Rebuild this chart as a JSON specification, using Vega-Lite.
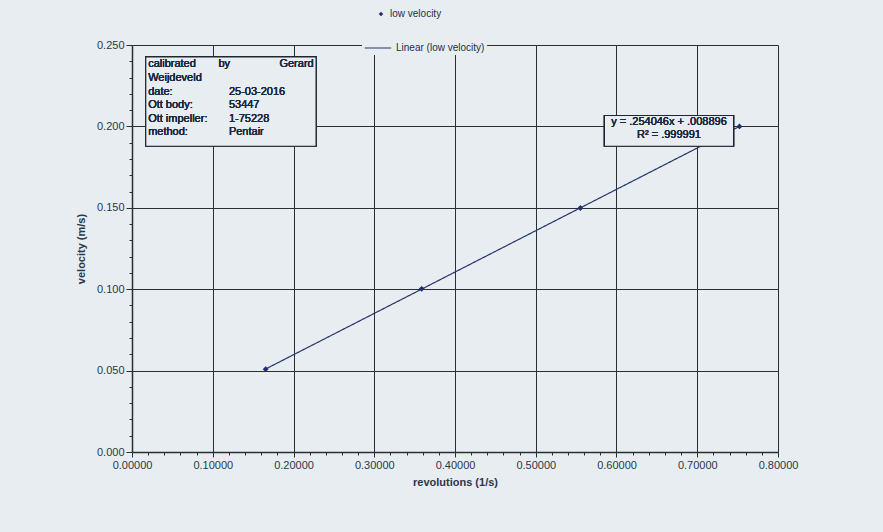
{
  "$schema": "https://vega.github.io/schema/vega-lite/v6.json",
  "autosize": {"type": "none"},
  "width": 646,
  "height": 407,
  "padding": {"left": 132, "top": 45, "right": 105, "bottom": 80},
  "background": "#e7edf0",
  "config": {
    "font": "Liberation Sans",
    "view": {"stroke": null},
    "axis": {"labelFont": "Liberation Sans", "titleFont": "Liberation Sans", "labelColor": "#2c3848", "titleColor": "#2c3848", "labelFontSize": 11, "titleFontSize": 11, "titleFontWeight": "bold", "domainColor": "#2a2f36", "tickColor": "#2a2f36", "gridColor": "#2a2f36", "gridWidth": 1, "domainWidth": 1.5},
    "legend": {"labelFont": "Liberation Sans", "labelFontSize": 10, "labelColor": "#223048"}
  },
  "data": {"values": [
    {"rev": 0.1655, "vel": 0.0509},
    {"rev": 0.3587, "vel": 0.1002},
    {"rev": 0.5553, "vel": 0.1499},
    {"rev": 0.7523, "vel": 0.2000}
  ]},
  "encoding": {
    "x": {"field": "rev", "type": "quantitative", "scale": {"domain": [0, 0.8], "nice": false},
      "axis": {
        "title": "revolutions (1/s)",
        "values": [0,0.02,0.04,0.06,0.08,0.1,0.12,0.14,0.16,0.18,0.2,0.22,0.24,0.26,0.28,0.3,0.32,0.34,0.36,0.38,0.4,0.42,0.44,0.46,0.48,0.5,0.52,0.54,0.56,0.58,0.6,0.62,0.64,0.66,0.68,0.7,0.72,0.74,0.76,0.78,0.8],
        "labelExpr": "abs(datum.value*10-round(datum.value*10))<1e-6 ? format(datum.value,'.5f') : ''",
        "labelOverlap": false,
        "labelFlush": false,
        "grid": true,
        "gridOpacity": {"condition": {"test": "abs(datum.value*10-round(datum.value*10))<1e-6", "value": 1}, "value": 0},
        "tickSize": {"condition": {"test": "abs(datum.value*10-round(datum.value*10))<1e-6", "value": 5}, "value": 3},
        "titlePadding": 6
      }},
    "y": {"field": "vel", "type": "quantitative", "scale": {"domain": [0, 0.25], "nice": false},
      "axis": {
        "title": "velocity (m/s)",
        "values": [0,0.01,0.02,0.03,0.04,0.05,0.06,0.07,0.08,0.09,0.1,0.11,0.12,0.13,0.14,0.15,0.16,0.17,0.18,0.19,0.2,0.21,0.22,0.23,0.24,0.25],
        "labelExpr": "abs(datum.value*20-round(datum.value*20))<1e-6 ? format(datum.value,'.3f') : ''",
        "labelOverlap": false,
        "labelFlush": false,
        "grid": true,
        "gridOpacity": {"condition": {"test": "abs(datum.value*20-round(datum.value*20))<1e-6", "value": 1}, "value": 0},
        "tickSize": {"condition": {"test": "abs(datum.value*20-round(datum.value*20))<1e-6", "value": 6}, "value": 3},
        "titlePadding": 10
      }}
  },
  "layer": [
    {
      "transform": [{"regression": "vel", "on": "rev"}],
      "mark": {"type": "line", "color": "#27366b", "strokeWidth": 1.2},
      "encoding": {
        "strokeDash": {"datum": "Linear (low velocity)", "scale": {"range": [[1, 0]]},
          "legend": {"title": null, "orient": "none", "legendX": 230, "legendY": -13, "symbolType": "stroke", "symbolSize": 700, "symbolStrokeColor": "#27366b", "symbolStrokeWidth": 1.2, "fillColor": "#e7edf0", "padding": 2}}
      }
    },
    {
      "mark": {"type": "point", "shape": "diamond", "filled": true, "size": 34, "color": "#1c2f6e", "opacity": 1},
      "encoding": {
        "shape": {"datum": "low velocity", "scale": {"range": ["diamond"]},
          "legend": {"title": null, "orient": "none", "legendX": 244, "legendY": -36, "symbolSize": 20, "symbolFillColor": "#1c2f6e", "symbolStrokeColor": "#1c2f6e"}}
      }
    },
    {
      "mark": {"type": "rect", "fill": "#e7edf0", "stroke": "#1e2630", "strokeWidth": 1.2},
      "encoding": {"x": {"datum": 0.017}, "x2": {"datum": 0.228}, "y": {"datum": 0.2427}, "y2": {"datum": 0.1878}}
    },
    {
      "mark": {"type": "text", "align": "left", "baseline": "top", "fontSize": 11, "lineHeight": 13.6, "color": "#1c2a44",
        "text": ["calibrated", "Weijdeveld", "date:", "Ott body:", "Ott impeller:", "method:"]},
      "encoding": {"x": {"datum": 0.02}, "y": {"datum": 0.2418}}
    },
    {
      "mark": {"type": "text", "align": "left", "baseline": "top", "fontSize": 11, "lineHeight": 13.6, "color": "#1c2a44",
        "text": ["25-03-2016", "53447", "1-75228", "Pentair"]},
      "encoding": {"x": {"datum": 0.12}, "y": {"datum": 0.2251}}
    },
    {
      "mark": {"type": "text", "align": "left", "baseline": "top", "fontSize": 11, "color": "#1c2a44", "text": "by"},
      "encoding": {"x": {"datum": 0.107}, "y": {"datum": 0.2418}}
    },
    {
      "mark": {"type": "text", "align": "right", "baseline": "top", "fontSize": 11, "color": "#1c2a44", "text": "Gerard"},
      "encoding": {"x": {"datum": 0.225}, "y": {"datum": 0.2418}}
    },
    {
      "mark": {"type": "rect", "fill": "#e7edf0", "stroke": "#1e2630", "strokeWidth": 1.2},
      "encoding": {"x": {"datum": 0.585}, "x2": {"datum": 0.745}, "y": {"datum": 0.2067}, "y2": {"datum": 0.1878}}
    },
    {
      "mark": {"type": "text", "align": "center", "baseline": "top", "fontSize": 11, "lineHeight": 13, "color": "#1c2a44",
        "text": ["y = .254046x + .008896", "R² = .999991"]},
      "encoding": {"x": {"datum": 0.665}, "y": {"datum": 0.2062}}
    }
  ]
}
